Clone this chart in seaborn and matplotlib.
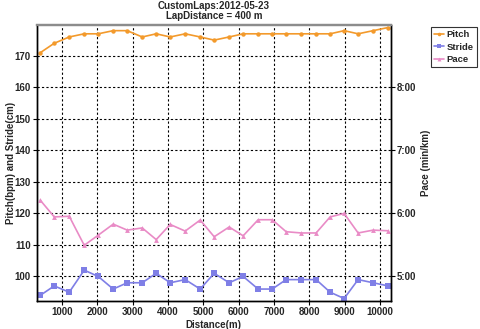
import matplotlib
matplotlib.use("Agg")
import matplotlib.pyplot as plt
from matplotlib.ticker import FixedLocator, FuncFormatter
import seaborn as sns
import pandas as pd

# Lap end distances (m)
distance = [386, 782, 1206, 1630, 2026, 2450, 2846, 3270, 3666, 4062, 4486, 4910,
            5306, 5730, 6126, 6550, 6946, 7342, 7766, 8190, 8586, 8982, 9378, 9802, 10226]
# Cadence (steps/min)
pitch = [171, 174, 176, 177, 177, 178, 178, 176, 177, 176, 177, 176,
         175, 176, 177, 177, 177, 177, 177, 177, 177, 178, 177, 178, 179]
# Stride length (cm)
stride = [94, 97, 95, 102, 100, 96, 98, 98, 101, 98, 99, 96,
          101, 98, 100, 96, 96, 99, 99, 99, 95, 93, 99, 98, 97]
# Pace (min/km)
pace = [6.21, 5.945, 5.955, 5.495, 5.655, 5.83, 5.735, 5.77, 5.585, 5.825, 5.72, 5.895,
        5.63, 5.785, 5.645, 5.90, 5.90, 5.71, 5.69, 5.69, 5.945, 6.00, 5.69, 5.735, 5.725]

x_ticks = [1000, 2000, 3000, 4000, 5000, 6000, 7000, 8000, 9000, 10000]
left_ticks = [100, 110, 120, 130, 140, 150, 160, 170]
pace_ticks = [5, 6, 7, 8]

df = pd.DataFrame({"Distance": distance, "Pitch": pitch, "Stride": stride, "Pace": pace})

sns.set_theme(style="white")
plt.rcParams["font.family"] = ["Liberation Sans", "DejaVu Sans"]
plt.rcParams["font.weight"] = "bold"

fig = plt.figure(figsize=(4.8, 3.29), dpi=100)
ax = fig.add_axes([0.077, 0.085, 0.737, 0.840])
ax2 = ax.twinx()

c_pitch = "#F39A2C"
c_stride = "#7F7FE6"
c_pace = "#E98BC6"

sns.lineplot(data=df, x="Distance", y="Pitch", ax=ax, color=c_pitch, marker="o",
             markersize=3.2, markeredgewidth=0, linewidth=1.2, label="Pitch", legend=False)
sns.lineplot(data=df, x="Distance", y="Stride", ax=ax, color=c_stride, marker="s",
             markersize=4.2, markeredgewidth=0, linewidth=1.2, label="Stride", legend=False)
sns.lineplot(data=df, x="Distance", y="Pace", ax=ax2, color=c_pace, marker="^",
             markersize=3.5, markeredgewidth=0, linewidth=1.2, label="Pace", legend=False)

ax.set_xlim(293, 10300)
ax.set_ylim(92.2, 179.9)
ax2.set_ylim(4.61, 8.995)

ax.xaxis.set_major_locator(FixedLocator(x_ticks))
ax.yaxis.set_major_locator(FixedLocator(left_ticks))
ax2.yaxis.set_major_locator(FixedLocator(pace_ticks))
ax2.yaxis.set_major_formatter(FuncFormatter(lambda v, p: f"{int(v)}:{int(round((v % 1) * 60)):02d}"))

ax.grid(True, color="black", linestyle=(0, (2, 2)), linewidth=0.8)
ax2.grid(False)

for a in (ax, ax2):
    a.tick_params(axis="both", labelsize=7, length=3, width=0.8, color="black",
                  direction="out", pad=1.5)
    for lbl in a.get_xticklabels() + a.get_yticklabels():
        lbl.set_fontweight("bold")
ax.tick_params(axis="x", bottom=True)
ax.tick_params(axis="y", left=True)
ax2.tick_params(axis="y", right=True)

for a in (ax, ax2):
    for name in ("left", "bottom", "right"):
        a.spines[name].set_color("black")
        a.spines[name].set_linewidth(1.0)
    a.spines["top"].set_color("#8C8C8C")
    a.spines["top"].set_linewidth(1.6)

ax.set_xlabel("Distance(m)", fontsize=7, fontweight="bold", labelpad=2)
ax.set_ylabel("Pitch(bpm) and Stride(cm)", fontsize=7, fontweight="bold", labelpad=-1)
ax2.set_ylabel("Pace (min/km)", fontsize=7, fontweight="bold", labelpad=3)

fig.text(0.446, 0.981, "CustomLaps:2012-05-23", ha="center", va="center",
         fontsize=7, fontweight="bold")
fig.text(0.446, 0.951, "LapDistance = 400 m", ha="center", va="center",
         fontsize=7, fontweight="bold")

handles = ax.get_lines()[:2] + ax2.get_lines()[:1]
leg = fig.legend(handles, ["Pitch", "Stride", "Pace"], loc="upper left",
                 bbox_to_anchor=(0.897, 0.918), fontsize=6.8, frameon=True,
                 fancybox=False, framealpha=1, edgecolor="#333333",
                 handlelength=1.1, handletextpad=0.25, borderpad=0.35,
                 labelspacing=0.35, borderaxespad=0, markerscale=0.8)
leg.get_frame().set_linewidth(0.8)
for t in leg.get_texts():
    t.set_fontweight("bold")

fig.savefig("out.png", dpi=100)
